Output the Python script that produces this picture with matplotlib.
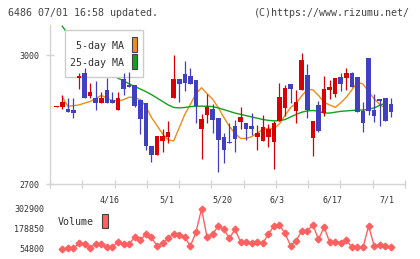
import matplotlib
matplotlib.use("Agg")
import matplotlib.pyplot as plt
from matplotlib.patches import Rectangle
import numpy as np

# daily candles (oldest -> newest), yen
opens = [2880, 2878, 2874, 2872, 2947, 2958, 2905, 2900, 2889, 2919,
         2895, 2873, 2944, 2930, 2930, 2895, 2888, 2788, 2768, 2799,
         2809, 2901, 2944, 2956, 2952, 2941, 2829, 2861, 2874, 2853,
         2809, 2798, 2835, 2845, 2841, 2835, 2810, 2801, 2810, 2798,
         2846, 2877, 2933, 2870, 2919, 2953, 2808, 2884, 2864, 2919,
         2910, 2949, 2947, 2958, 2949, 2870, 2993, 2872, 2898, 2900,
         2886]
highs = [2882, 2906, 2900, 2900, 2957, 2969, 2934, 2939, 2913, 2946,
         2913, 2913, 2958, 2960, 2930, 2895, 2888, 2788, 2811, 2829,
         2846, 3000, 2944, 2986, 2969, 2941, 2863, 2909, 2885, 2853,
         2818, 2841, 2849, 2879, 2841, 2865, 2837, 2860, 2840, 2847,
         2935, 2930, 2933, 2919, 3004, 2979, 2847, 2893, 2951, 2942,
         2947, 2959, 2970, 2960, 2949, 2891, 2993, 2909, 2898, 2900,
         2900]
lows = [2879, 2875, 2867, 2854, 2920, 2900, 2901, 2872, 2889, 2888,
        2888, 2873, 2906, 2926, 2880, 2817, 2778, 2752, 2768, 2775,
        2795, 2901, 2890, 2917, 2932, 2841, 2757, 2841, 2819, 2729,
        2748, 2796, 2775, 2827, 2802, 2814, 2779, 2801, 2785, 2736,
        2846, 2858, 2888, 2843, 2919, 2854, 2766, 2822, 2859, 2897,
        2903, 2917, 2919, 2926, 2868, 2822, 2861, 2845, 2836, 2847,
        2855]
closes = [2881, 2891, 2868, 2864, 2952, 2901, 2914, 2889, 2900, 2888,
          2888, 2900, 2922, 2926, 2881, 2852, 2789, 2768, 2811, 2811,
          2820, 2944, 2933, 2936, 2932, 2881, 2851, 2880, 2848, 2802,
          2778, 2796, 2805, 2855, 2829, 2829, 2819, 2832, 2828, 2842,
          2902, 2923, 2922, 2891, 2988, 2873, 2847, 2824, 2921, 2926,
          2947, 2933, 2958, 2926, 2868, 2843, 2870, 2859, 2894, 2847,
          2867]

# moving averages as drawn (candle 1 .. 59)
ma5 = [2903, 2881, 2882, 2884, 2888, 2892, 2899, 2906, 2900, 2894,
       2893, 2896, 2902, 2901, 2896, 2881, 2855, 2836, 2817, 2803,
       2800, 2831, 2862, 2885, 2910, 2924, 2910, 2897, 2878, 2855,
       2834, 2818, 2806, 2806, 2810, 2818, 2827, 2829, 2829, 2840,
       2860, 2878, 2888, 2905, 2920, 2919, 2906, 2890, 2884, 2878,
       2889, 2902, 2919, 2937, 2932, 2915, 2898, 2885, 2876]
ma25 = [3067, 3049, 3034, 3021, 3008, 2996, 2985, 2974, 2964, 2955,
        2946, 2940, 2933, 2927, 2921, 2915, 2908, 2900, 2892, 2884,
        2878, 2877, 2878, 2880, 2881, 2881, 2881, 2880, 2877, 2873,
        2869, 2865, 2862, 2859, 2856, 2853, 2850, 2848, 2847, 2847,
        2850, 2856, 2862, 2867, 2870, 2871, 2869, 2865, 2865, 2867,
        2869, 2870, 2871, 2872, 2872, 2874, 2877, 2883, 2888]

# volume (candle 1 .. 60)
volume = [54800, 58900, 58900, 89900, 85800, 63100, 85800, 85800, 65100, 65100,
          100300, 85800, 85800, 127200, 108600, 147800, 127200, 73400, 89900, 121000,
          147800, 141600, 127200, 73400, 158200, 302900, 127200, 147800, 197500, 176800,
          121000, 176800, 100300, 100300, 89900, 100300, 89900, 147800, 197500, 203700,
          152000, 73400, 106500, 168500, 168500, 203700, 114800, 189200, 100300, 100300,
          89900, 110600, 65100, 65100, 65100, 197500, 73400, 79600, 73400, 65100]

date_labels = ["4/16", "5/1", "5/20", "6/3", "6/17", "7/1"]
price_ticks = [2700, 3000]

RED = "#d80000"
BLUE = "#4040c0"
ORANGE = "#f08c18"
GREEN = "#12a020"
VOLC = "#ff6060"
TXT = "#333333"
AXC = "#d4d4d4"
MONO = "DejaVu Sans Mono"

plt.rcParams["font.family"] = MONO

W, H = 420, 259
fig = plt.figure(figsize=(W / 100, H / 100), dpi=100)

def fx(px):
    return px / W

def fy(py):
    return 1 - py / H

# header
fig.text(fx(8), fy(12.5), "6486 07/01 16:58 updated.", ha="left", va="center",
         size=7.2, color="#444444")
fig.text(fx(410), fy(12.5), "(C)https://www.rizumu.net/", ha="right", va="center",
         size=7.2, color="#444444")

# price panel
ax = fig.add_axes([fx(50), fy(184), fx(355), 159 / H])
o = np.array(opens); c = np.array(closes)
hi = np.array(highs); lo = np.array(lows)
x = np.arange(len(c))
cols = np.where(c >= o, RED, BLUE)

x_ma = np.arange(1, 1 + len(ma5))
ax.plot(x_ma, ma5, color=ORANGE, lw=1.0, zorder=1)
ax.plot(np.arange(1, 1 + len(ma25)), ma25, color=GREEN, lw=1.0, zorder=1)

ax.vlines(x, lo, hi, colors=cols, linewidth=0.9, zorder=3)
ax.bar(x, np.maximum(np.abs(c - o), 1.5), bottom=np.minimum(o, c), width=0.82,
       color=cols, linewidth=0, zorder=3)

xlim = (-1.2, 62.53)
ax.set_xlim(*xlim)
ax.set_ylim(2700, 3069.8)

for s in ["top", "right"]:
    ax.spines[s].set_visible(False)
for s in ["left", "bottom"]:
    ax.spines[s].set_color(AXC)
    ax.spines[s].set_linewidth(1.0)

ax.set_yticks(price_ticks)
ax.set_yticklabels([str(t) for t in price_ticks])
ax.tick_params(axis="y", direction="inout", length=6, width=1, color=AXC,
               labelsize=6, labelcolor=TXT, pad=4.5)

ax.set_xticks(np.linspace(xlim[0], xlim[1], 12), minor=True)
ax.set_xticks([9.57, 19.8, 29.7, 39.5, 49.6, 59.3])
ax.set_xticklabels(date_labels)
ax.tick_params(axis="x", which="minor", direction="inout", length=6, width=1, color=AXC)
ax.tick_params(axis="x", which="major", length=0, labelsize=6, labelcolor=TXT, pad=8)

# legend box of the price panel
def axfrac(px, py):
    return ((px - 50) / 355, (184 - py) / 159)

bx0, by0 = axfrac(65, 76.7)
bx1, by1 = axfrac(143.3, 30)
ax.add_patch(Rectangle((bx0, by0), bx1 - bx0, by1 - by0, transform=ax.transAxes,
                       facecolor="white", edgecolor="#cccccc", lw=1.0, zorder=2))
for label, col, ty, sy0, sy1 in [("5-day MA", ORANGE, 46, 52.3, 37.3),
                                 ("25-day MA", GREEN, 63, 69, 54.3)]:
    tx, tyf = axfrac(124, ty)
    ax.text(tx, tyf, label, transform=ax.transAxes, ha="right", va="center",
            size=7.2, color=TXT, zorder=5)
    sx0, s0 = axfrac(131.5, sy0)
    sx1, s1 = axfrac(136.8, sy1)
    ax.add_patch(Rectangle((sx0, s0), sx1 - sx0, s1 - s0, transform=ax.transAxes,
                           facecolor=col, edgecolor="#444444", lw=0.8, zorder=5))

# volume panel
ax2 = fig.add_axes([fx(50), fy(254), fx(355), 50 / H])
xv = np.arange(1, 1 + len(volume))
ax2.plot(xv, volume, color=VOLC, lw=1.0, marker="D", ms=3.4, mfc=VOLC, mec=VOLC)
vmin, vmax = min(volume), max(volume)
pad = (vmax - vmin) / 40 * 5
ax2.set_xlim(*xlim)
ax2.set_ylim(vmin - pad, vmax + pad)
for s in ax2.spines.values():
    s.set_visible(False)
ax2.set_xticks([])
vt = [vmin, (vmin + vmax) // 2, vmax]
ax2.set_yticks(vt)
ax2.set_yticklabels([str(v) for v in vt])
ax2.tick_params(axis="y", length=0, labelsize=6, labelcolor=TXT, pad=4.3)

fig.text(fx(58), fy(222), "Volume", ha="left", va="center", size=7.2, color=TXT)
fig.add_artist(Rectangle((fx(102), fy(228.3)), fx(5.7), 14.8 / H,
                         transform=fig.transFigure, facecolor=VOLC,
                         edgecolor="#444444", lw=0.8))

fig.savefig("out.png", dpi=100)
